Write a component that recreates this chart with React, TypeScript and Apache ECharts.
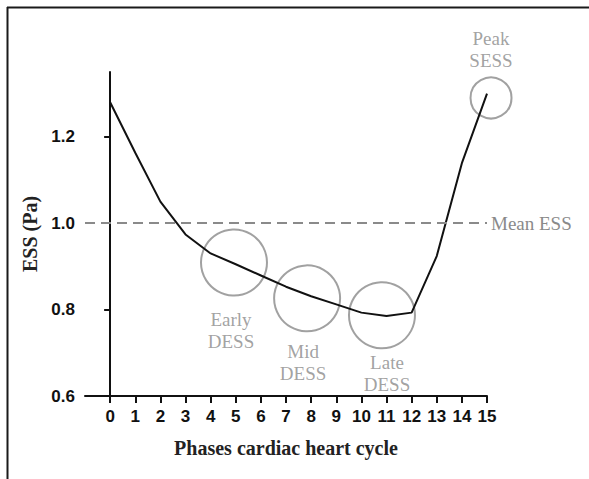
import React, { useEffect, useRef } from "react";
import * as echarts from "echarts";

const phases = [0, 1, 2, 3, 4, 5, 6, 7, 8, 9, 10, 11, 12, 13, 14, 15];
const essValues = [1.28, 1.163, 1.05, 0.974, 0.93, 0.905, 0.879, 0.853, 0.831, 0.812, 0.793, 0.785, 0.793, 0.924, 1.139, 1.3];
const yTicks = [0.6, 0.8, 1.0, 1.2];
const meanEss = 1.0;
const circleX = [4.93, 7.84, 10.82, 15.16];
const circleY = [0.909, 0.826, 0.787, 1.29];
const circleLabels = ["Early\nDESS", "Mid\nDESS", "Late\nDESS", "Peak\nSESS"];

const GRAY = "#8a8a8a";
const SERIF = "'Liberation Serif', 'Times New Roman', serif";
const SANS = "'Liberation Sans', Arial, sans-serif";

export default function App() {
  const ref = useRef<HTMLDivElement>(null);
  useEffect(() => {
    if (!ref.current) return;
    const chart = echarts.init(ref.current, null, { renderer: "svg" });
    const labelCfg = [
      { position: "bottom", distance: 12, offset: [-3, 0] },
      { position: "bottom", distance: 8, offset: [-4, 0] },
      { position: "bottom", distance: 2, offset: [5, 0] },
      { position: "top", distance: 5, offset: [0, 0] },
    ];
    const sizes = [66, 66, 66, 41];
    chart.setOption({
      animation: false,
      backgroundColor: "#fff",
      grid: { left: 85, right: 102, top: 72, bottom: 83, containLabel: false },
      xAxis: {
        type: "value",
        min: -1,
        max: 15,
        interval: 1,
        name: "Phases cardiac heart cycle",
        nameLocation: "middle",
        nameGap: 42,
        nameTextStyle: { fontFamily: SERIF, fontWeight: "bold", fontSize: 20, color: "#222" },
        axisLine: { lineStyle: { color: "#111", width: 2 } },
        axisTick: { customValues: phases, length: 7, lineStyle: { color: "#111", width: 2 } },
        axisLabel: { customValues: phases, margin: 12, fontFamily: SANS, fontWeight: "bold", fontSize: 17, color: "#111" },
        splitLine: { show: false },
      },
      yAxis: {
        type: "value",
        min: 0.6,
        max: 1.35,
        name: "ESS (Pa)",
        nameLocation: "middle",
        nameGap: 32,
        nameTextStyle: { fontFamily: SERIF, fontWeight: "bold", fontSize: 20, color: "#222" },
        axisLine: { show: true, lineStyle: { color: "#111", width: 2 } },
        axisTick: { show: true, customValues: yTicks, length: 6, lineStyle: { color: "#111", width: 2 } },
        axisLabel: {
          customValues: yTicks,
          margin: 10,
          fontFamily: SANS,
          fontWeight: "bold",
          fontSize: 17,
          color: "#111",
          formatter: (v: number) => v.toFixed(1),
        },
        splitLine: { show: false },
      },
      graphic: [
        {
          type: "line",
          shape: { x1: 7.5, y1: 7, x2: 7.5, y2: 479 },
          style: { stroke: "#1a1a1a", lineWidth: 2 },
          silent: true,
        },
        {
          type: "line",
          shape: { x1: 7, y1: 7.5, x2: 589, y2: 7.5 },
          style: { stroke: "#1a1a1a", lineWidth: 2 },
          silent: true,
        },
      ],
      series: [
        {
          type: "line",
          data: phases.map((p, i) => [p, essValues[i]]),
          showSymbol: false,
          symbol: "none",
          lineStyle: { color: "#111", width: 2 },
          z: 3,
          markLine: {
            silent: true,
            symbol: "none",
            data: [{ yAxis: meanEss }],
            lineStyle: { color: GRAY, width: 2, type: [10, 6] },
            label: {
              show: true,
              position: "end",
              distance: 4,
              formatter: "Mean ESS",
              fontFamily: SERIF,
              fontSize: 19,
              color: GRAY,
            },
          },
        },
        {
          type: "scatter",
          z: 2,
          clip: false,
          data: circleX.map((x, i) => ({
            value: [x, circleY[i]],
            symbolSize: sizes[i],
            label: {
              show: true,
              formatter: circleLabels[i],
              position: labelCfg[i].position,
              distance: labelCfg[i].distance,
              offset: labelCfg[i].offset,
              fontFamily: SERIF,
              fontSize: 19,
              lineHeight: 22,
              color: GRAY,
              align: "center",
            },
          })),
          symbol: "circle",
          itemStyle: { color: "rgba(0,0,0,0)", borderColor: GRAY, borderWidth: 2 },
        },
      ],
    });
    return () => chart.dispose();
  }, []);
  return (
    <div
      ref={ref}
      style={{ position: "fixed", left: 0, top: 0, width: 589, height: 479, background: "#fff" }}
    />
  );
}
